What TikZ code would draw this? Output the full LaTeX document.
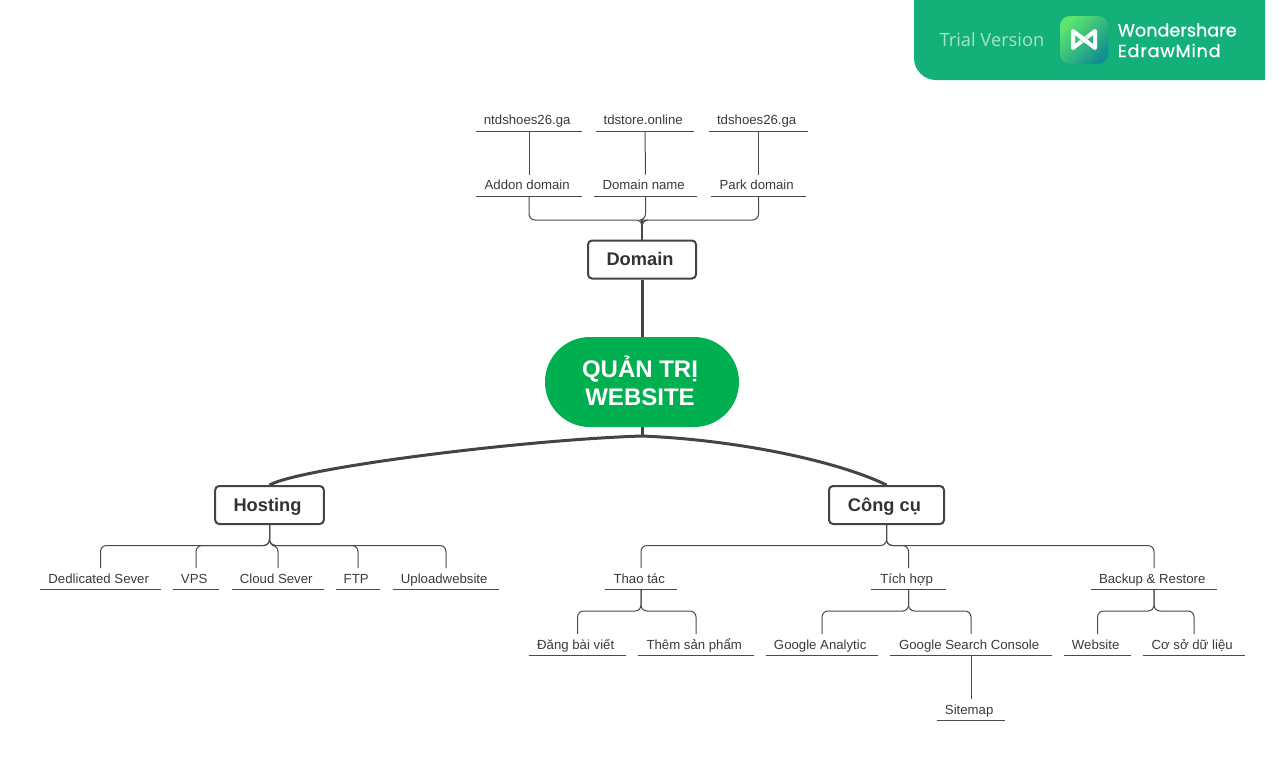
\documentclass[tikz,border=0pt]{standalone}
\usepackage{fontspec}
\setmainfont{Liberation Sans}
\newfontfamily\brandfont{Open Sans}
\newfontfamily\logofont[FakeBold=0.8]{Poppins}
\newfontfamily\logofontwide[FakeBold=0.8,LetterSpace=4.5]{Poppins}
\usetikzlibrary{calc}
\definecolor{rootgreen}{HTML}{00B050}
\definecolor{bannergreen}{HTML}{14B07A}
\definecolor{linedark}{HTML}{444444}
\definecolor{linethin}{HTML}{4A4A4A}
\definecolor{textdark}{HTML}{3A3A3A}
\definecolor{topictext}{HTML}{333333}
\definecolor{trialtext}{HTML}{A8E3CB}
\definecolor{logoa}{HTML}{5CE56E}
\definecolor{logob}{HTML}{11908F}
\definecolor{logomid}{HTML}{BDEBD0}
\tikzset{
  x=0.75pt,y=-0.75pt,
  leaf/.style={rectangle,inner sep=0pt,minimum height=15.75pt,text=textdark,
    font=\fontsize{9.9}{12}\selectfont,text height=6.7pt,text depth=0pt,
    execute at end node={\hspace{2.7pt}},
    append after command={(\tikzlastnode.south west) edge[underl] (\tikzlastnode.south east)}},
  underl/.style={draw=linethin,line width=0.75pt},
  topic/.style={rectangle,draw=linedark,line width=1.5pt,rounded corners=3pt,fill=white,
    minimum height=28.5pt,inner sep=0pt,text=topictext,font=\fontsize{13.7}{16}\selectfont\bfseries,
    text height=9pt,text depth=0pt,
    execute at end node={\hspace{3pt}}},
  root/.style={rectangle,fill=rootgreen,rounded corners=33.7pt,minimum width=145.5pt,
    minimum height=67.5pt,inner sep=0pt,text=white,align=center,
    font=\fontsize{18}{21}\selectfont\bfseries},
  thickline/.style={draw=linedark,line width=2.25pt},
  midline/.style={draw=linedark,line width=1.5pt},
  thinline/.style={draw=linethin,line width=0.75pt,rounded corners=4.5pt},
  brand/.style={text=white,anchor=west,inner sep=0pt},
}
\begin{document}
\begin{tikzpicture}
\useasboundingbox (0,0) rectangle (1285,761);
% banner
\fill[bannergreen] (914,0) -- (1265,0) -- (1265,80) -- (936,80) arc[start angle=90,end angle=180,radius=22] -- cycle;
\node[text=trialtext,font=\brandfont\fontsize{13.7}{16}\selectfont,inner sep=0pt] (trial) at (992,40) {Trial Version};
\shade[rounded corners=7.5pt,left color=logoa,right color=logob,shading angle=45] (1060,16) rectangle (1108,64);
\draw[white,line width=3pt,line join=round,line cap=round] (1073,31) -- (1073,48) -- (1095,31) -- (1095,48) -- (1073,31) -- cycle;
\draw[logomid,line width=3pt] (1081,41.8) -- (1087,37.2);
\draw[white,line width=3pt] (1079,35.6) -- (1089,43.4);
\node[brand,font=\logofont\fontsize{13.2}{16}\selectfont] (wonder) at (1117.5,30) {Wondershare};
\node[brand,font=\logofontwide\fontsize{13.2}{16}\selectfont] (edraw) at (1117.5,50.5) {EdrawMind};
% centre and topics
\node[root] (centre) at (642,382) {QUẢN TRỊ\hspace*{3pt}\\WEBSITE\hspace*{3pt}\rule[-2.2pt]{0pt}{0pt}};
\node[topic,minimum width=81pt] (domain) at (642,259.5) {Domain};
\node[topic,minimum width=81.5pt] (hosting) at (269.5,505) {Hosting};
\node[topic,minimum width=86.25pt] (congcu) at (886.5,505) {Công cụ};
% domain leaves
\node[leaf,minimum width=79.5pt] (ntd) at (529,120.5) {ntdshoes26.ga};
\node[leaf,minimum width=73.5pt] (tdstore) at (645,120.5) {tdstore.online};
\node[leaf,minimum width=74.25pt] (tdshoes) at (758.5,120.5) {tdshoes26.ga};
\node[leaf,minimum width=79.5pt] (addon) at (529,185.5) {Addon domain};
\node[leaf,minimum width=77.25pt] (dname) at (645.5,185.5) {Domain name};
\node[leaf,minimum width=71.25pt] (park) at (758.5,185.5) {Park domain};
% hosting leaves
\node[leaf,minimum width=90.75pt] (ded) at (100.5,579) {Dedlicated Sever};
\node[leaf,minimum width=34.5pt] (vps) at (196,579) {VPS};
\node[leaf,minimum width=69pt] (cloud) at (278,579) {Cloud Sever};
\node[leaf,minimum width=33pt] (ftp) at (358,579) {FTP};
\node[leaf,minimum width=79.5pt] (upload) at (446,579) {Uploadwebsite};
% tool leaves
\node[leaf,minimum width=54pt] (thao) at (641,579) {Thao tác};
\node[leaf,minimum width=56.25pt] (tich) at (908.5,579) {Tích hợp};
\node[leaf,minimum width=94.5pt] (backup) at (1154,579) {Backup \& Restore};
\node[leaf,minimum width=72.75pt] (dang) at (577.5,645) {Đăng bài viết};
\node[leaf,minimum width=87pt] (them) at (696,645) {Thêm sản phẩm};
\node[leaf,minimum width=84pt] (ganal) at (822,645) {Google Analytic};
\node[leaf,minimum width=121.5pt] (gsc) at (971,645) {Google Search Console};
\node[leaf,minimum width=50.25pt] (web) at (1097.5,645) {Website};
\node[leaf,minimum width=76.5pt] (csdl) at (1194,645) {Cơ sở dữ liệu};
\node[leaf,minimum width=51pt] (site) at (971,710) {Sitemap};
% main connectors
\draw[thickline] (domain.south) -- (centre.north);
\coordinate (hub) at (642,436);
\draw[thickline] (centre.south) -- (hub);
\draw[thickline] (hub) .. controls (520,440) and (300,468) .. (hosting.north);
\draw[thickline] (hub) .. controls (740,440) and (840,462) .. (congcu.north);
% domain branch
\coordinate (dbus) at (642,220);
\draw[midline] (domain.north) -- (dbus);
\draw[thinline] (domain.north) -- (dbus) -| (addon.south);
\draw[thinline] (domain.north) -- (dbus) -| (dname.south);
\draw[thinline] (domain.north) -- (dbus) -| (park.south);
\draw[thinline] (addon.north) -- (ntd.south);
\draw[thinline] (dname.north) -- (tdstore.south);
\draw[thinline] (park.north) -- (tdshoes.south);
% hosting branch
\coordinate (hbus) at (269.5,545.5);
\foreach \t in {ded,vps,cloud,ftp,upload}
  \draw[thinline] (hosting.south) -- (hbus) -| (\t.north);
% tools branch
\coordinate (cbus) at (886.5,545.5);
\foreach \t in {thao,tich,backup}
  \draw[thinline] (congcu.south) -- (cbus) -| (\t.north);
\coordinate (tbus) at (641,611);
\foreach \t in {dang,them}
  \draw[thinline] (thao.south) -- (tbus) -| (\t.north);
\coordinate (ibus) at (908.5,611);
\foreach \t in {ganal,gsc}
  \draw[thinline] (tich.south) -- (ibus) -| (\t.north);
\coordinate (bbus) at (1154,611);
\foreach \t in {web,csdl}
  \draw[thinline] (backup.south) -- (bbus) -| (\t.north);
\draw[thinline] (gsc.south) -- (site.north);
\end{tikzpicture}
\end{document}
